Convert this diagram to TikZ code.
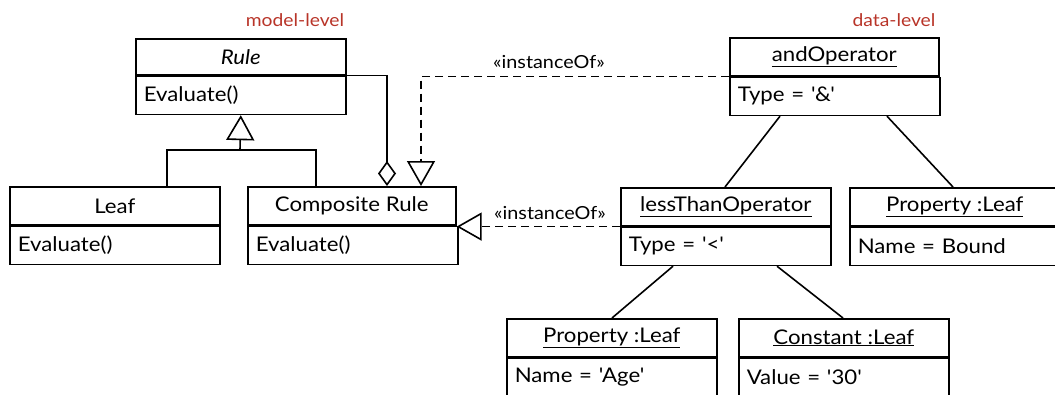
\documentclass[tikz,border=0pt]{standalone}
\usepackage{fontspec}
\setmainfont{Lato}[FakeStretch=1.1,Ligatures=TeXOff]
\usetikzlibrary{arrows.meta}
\definecolor{lvlred}{RGB}{184,52,40}
\begin{document}
\begin{tikzpicture}[x=1pt,y=-1pt,line width=1.6pt,
  hdr/.style={draw,anchor=north west,minimum width=210,minimum height=38,inner sep=0pt,font=\fontsize{20.2}{22}\selectfont},
  body/.style={draw,anchor=north west,minimum width=210,minimum height=38,inner xsep=8pt,inner ysep=0pt,text width=194pt,align=left,font=\fontsize{20.2}{22}\selectfont},
  lvl/.style={text=lvlred,font=\fontsize{17.5}{20}\selectfont,inner sep=0pt},
  iolbl/.style={font=\fontsize{18}{20}\selectfont,inner sep=0pt},
  gen/.style={-{Triangle[open,width=28pt,length=25pt]}},
  agg/.style={-{Diamond[open,width=18pt,length=25pt]}},
  inst/.style={dash pattern=on 8pt off 5pt,-{Triangle[open,width=28pt,length=25pt]}}]
\clip (0,0) rectangle (1055,394);
% labels
\node[lvl] (ml) at (295,20) {model-level};
\node[lvl] (dl) at (894,20) {data-level};
% model level
\node[hdr,minimum height=36] (rule) at (135,38) {\itshape Rule};
\node[body] (ruleB) at (rule.south west) {Evaluate()};
\node[hdr] (leaf) at (9,186) {Leaf};
\node[body] (leafB) at (leaf.south west) {Evaluate()};
\node[hdr,minimum width=208] (comp) at (247,186) {Composite Rule};
\node[body,minimum width=208] (compB) at (comp.south west) {Evaluate()};
% data level
\node[hdr,minimum width=209] (and) at (729,37) {\underline{andOperator}};
\node[body,minimum width=209] (andB) at (and.south west) {Type = '\&'};
\node[hdr] (less) at (620,187) {\underline{lessThanOperator}};
\node[body] (lessB) at (less.south west) {Type = '<'};
\node[hdr] (propR) at (849,187) {\underline{Property :Leaf}};
\node[body] (propRB) at (propR.south west) {Name = Bound};
\node[hdr] (propB) at (506,318) {\underline{Property :Leaf}};
\node[body] (propBB) at (propB.south west) {Name = 'Age'};
\node[hdr] (const) at (738,318) {\underline{Constant :Leaf}};
\node[body] (constB) at (const.south west) {Value = '30'};
% generalization
\coordinate (gm) at (240,150);
\draw (leaf.north -| 167,0) |- (gm) -| (comp.north -| 316,0);
\draw[gen] (gm) -- (ruleB.south);
% aggregation
\draw[agg] (rule.south east) -| (comp.north -| 387,0);
% instanceOf
\draw[inst] (and.south west) -| (comp.north -| 421,0);
\node[iolbl] (io1) at (549,62) {«instanceOf»};
\draw[inst] (less.south west) -- (less.south west -| comp.south east);
\node[iolbl] (io2) at (550,213) {«instanceOf»};
% links
\draw (andB.south -| 780,0) -- (less.north -| 725,0);
\draw (andB.south -| 887,0) -- (propR.north -| 953,0);
\draw (lessB.south -| 673,0) -- (propB.north -| 612,0);
\draw (lessB.south -| 777,0) -- (const.north -| 843,0);
\end{tikzpicture}
\end{document}
